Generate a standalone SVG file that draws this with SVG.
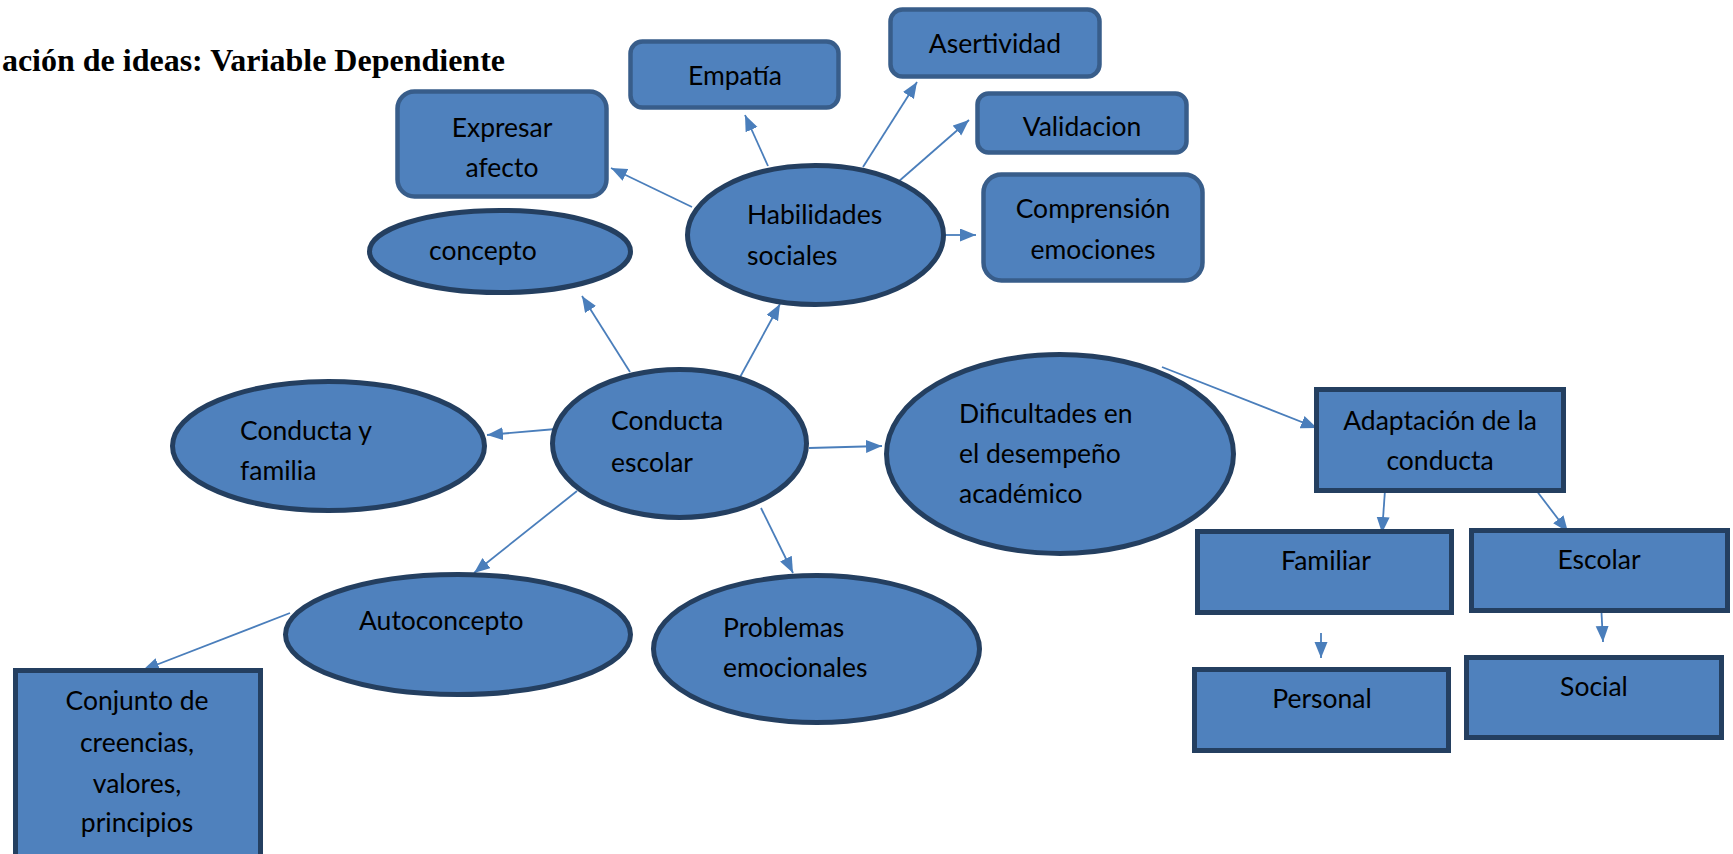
<svg xmlns="http://www.w3.org/2000/svg" width="1733" height="854" viewBox="0 0 1733 854">
<defs>
<style>
.rr{fill:#4F81BD;stroke:#385D8A;stroke-width:4.5}
.el{fill:#4F81BD;stroke:#243F60;stroke-width:5}
.sq{fill:#4F81BD;stroke:#243F60;stroke-width:5}
.t{font-family:Lato,"Open Sans",sans-serif;font-size:26.5px;fill:#000}
.c{text-anchor:middle}
.ln{stroke:#4A7EBB;stroke-width:1.8;fill:none;marker-end:url(#ah)}
.title{font-family:"Liberation Serif","Times New Roman",serif;font-weight:bold;font-size:32px;fill:#000;text-anchor:end}
</style>
<marker id="ah" markerUnits="userSpaceOnUse" markerWidth="17" markerHeight="14" refX="16" refY="6.5" orient="auto">
<path d="M0,0 L16,6.5 L0,13 z" fill="#4A7EBB"/>
</marker>
</defs>
<rect width="1733" height="854" fill="#fff"/>
<text class="title" x="505" y="71">ación de ideas: Variable Dependiente</text>

<g id="connectors">
<line class="ln" x1="692" y1="207" x2="611" y2="168"/>
<line class="ln" x1="768" y1="166" x2="745" y2="115"/>
<line class="ln" x1="863" y1="167" x2="917" y2="82"/>
<line class="ln" x1="898" y1="182" x2="969" y2="120"/>
<line class="ln" x1="944" y1="235" x2="976" y2="235"/>
<line class="ln" x1="630" y1="372" x2="582" y2="296"/>
<line class="ln" x1="739" y1="379" x2="780" y2="304"/>
<line class="ln" x1="556" y1="429" x2="487" y2="435"/>
<line class="ln" x1="809" y1="448" x2="882" y2="446"/>
<line class="ln" x1="577" y1="491" x2="474" y2="573"/>
<line class="ln" x1="761" y1="508" x2="793" y2="573"/>
<line class="ln" x1="290" y1="613" x2="143" y2="670"/>
<line class="ln" x1="1162" y1="367" x2="1317" y2="428"/>
<line class="ln" x1="1385" y1="490" x2="1382" y2="533"/>
<line class="ln" x1="1536" y1="490" x2="1568" y2="532"/>
<line class="ln" x1="1321" y1="633" x2="1321" y2="658"/>
<line class="ln" x1="1601" y1="603" x2="1603" y2="642"/>
</g>

<g id="expresar">
<rect class="rr" x="397.5" y="91.5" width="209" height="105" rx="17"/>
<text class="t c" x="502" y="137">Expresar</text>
<text class="t c" x="502" y="177">afecto</text>
</g>
<g id="empatia">
<rect class="rr" x="630.5" y="41.5" width="208" height="66" rx="12"/>
<text class="t c" x="735" y="85">Empatía</text>
</g>
<g id="asertividad">
<rect class="rr" x="890.5" y="9.5" width="209" height="67" rx="12"/>
<text class="t c" x="995" y="53">Asertividad</text>
</g>
<g id="validacion">
<rect class="rr" x="977.5" y="93.5" width="209" height="59" rx="11"/>
<text class="t c" x="1082" y="136">Validacion</text>
</g>
<g id="comprension">
<rect class="rr" x="983.5" y="174.5" width="219" height="106" rx="18"/>
<text class="t c" x="1093" y="218">Comprensión</text>
<text class="t c" x="1093" y="259">emociones</text>
</g>
<g id="habilidades">
<ellipse class="el" cx="815.5" cy="235" rx="128" ry="69.5"/>
<text class="t" x="747" y="224">Habilidades</text>
<text class="t" x="747" y="265">sociales</text>
</g>
<g id="concepto">
<ellipse class="el" cx="500" cy="251.5" rx="130.5" ry="41"/>
<text class="t" x="429" y="260">concepto</text>
</g>
<g id="conducta-escolar">
<ellipse class="el" cx="679.5" cy="443.5" rx="127" ry="74"/>
<text class="t" x="611" y="430">Conducta</text>
<text class="t" x="611" y="472">escolar</text>
</g>
<g id="conducta-familia">
<ellipse class="el" cx="328.5" cy="446" rx="156" ry="64.5"/>
<text class="t" x="240" y="440">Conducta y</text>
<text class="t" x="240" y="480">familia</text>
</g>
<g id="autoconcepto">
<ellipse class="el" cx="458" cy="634.5" rx="172.5" ry="60"/>
<text class="t" x="359" y="630">Autoconcepto</text>
</g>
<g id="problemas">
<ellipse class="el" cx="816.5" cy="649" rx="163" ry="73.5"/>
<text class="t" x="723" y="637">Problemas</text>
<text class="t" x="723" y="677">emocionales</text>
</g>
<g id="conjunto">
<rect class="sq" x="15.5" y="670.5" width="245" height="190"/>
<text class="t c" x="137" y="710">Conjunto de</text>
<text class="t c" x="137" y="752">creencias,</text>
<text class="t c" x="137" y="793">valores,</text>
<text class="t c" x="137" y="832">principios</text>
</g>
<g id="dificultades">
<ellipse class="el" cx="1060" cy="454" rx="173.5" ry="99.5"/>
<text class="t" x="959" y="423">Dificultades en</text>
<text class="t" x="959" y="463">el desempeño</text>
<text class="t" x="959" y="503">académico</text>
</g>
<g id="adaptacion">
<rect class="sq" x="1316.5" y="389.5" width="247" height="101"/>
<text class="t c" x="1440" y="430">Adaptación de la</text>
<text class="t c" x="1440" y="470">conducta</text>
</g>
<g id="familiar">
<rect class="sq" x="1197.5" y="531.5" width="254" height="81"/>
<text class="t c" x="1326" y="570">Familiar</text>
</g>
<g id="escolar">
<rect class="sq" x="1471.5" y="530.5" width="256" height="80"/>
<text class="t c" x="1599" y="569">Escolar</text>
</g>
<g id="personal">
<rect class="sq" x="1194.5" y="669.5" width="254" height="81"/>
<text class="t c" x="1322" y="708">Personal</text>
</g>
<g id="social">
<rect class="sq" x="1466.5" y="657.5" width="255" height="80"/>
<text class="t c" x="1594" y="696">Social</text>
</g>
</svg>
